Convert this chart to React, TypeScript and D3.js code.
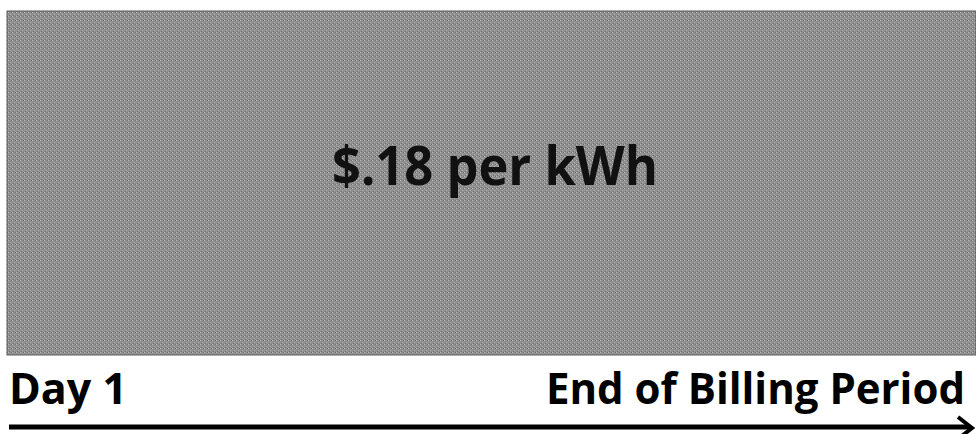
import React from "react";
import * as d3 from "d3";

const W = 976;
const H = 434;

// Timeline categories (start and end of billing period)
const periodLabels = ["Day 1", "End of Billing Period"];
const periodPositions = [0, 1];
// Flat rate over the period
const rateLabels = ["$.18 per kWh"];
const rateValues = [0.18];

export default function App() {
  const x = d3.scaleLinear().domain([0, 1]).range([9, 965]);
  const y = d3.scaleLinear().domain([0, 0.18]).range([355, 11]);
  const font = "'Open Sans', 'Noto Sans', sans-serif";
  return (
    <svg width={W} height={H} style={{ position: "absolute", left: 0, top: 0, display: "block" }}>
      <defs>
        <pattern id="stip" width="4" height="4" patternUnits="userSpaceOnUse">
          <rect width="4" height="4" fill="#909090" />
          <rect x="0" y="0" width="1" height="1" fill="#b8b8b8" />
          <rect x="2" y="2" width="1" height="1" fill="#aaaaaa" />
          <rect x="3" y="0" width="1" height="1" fill="#707070" />
          <rect x="1" y="3" width="1" height="1" fill="#767676" />
        </pattern>
      </defs>
      {rateValues.map((v, i) => (
        <g key={i}>
          <rect
            x={7}
            y={y(v)}
            width={W - 7}
            height={y(0) - y(v)}
            fill="url(#stip)"
            stroke="#5a5a5a"
            strokeWidth={1}
          />
          <text
            x={495}
            y={185}
            textAnchor="middle"
            fontFamily={font}
            fontWeight={700}
            fontSize={54}
            fill="#111"
            textLength={326}
            lengthAdjust="spacingAndGlyphs"
          >
            {rateLabels[i]}
          </text>
        </g>
      ))}
      {periodLabels.map((l, i) => (
        <text
          key={l}
          x={x(periodPositions[i])}
          y={404}
          textAnchor={i === 0 ? "start" : "end"}
          fontFamily={font}
          fontWeight={700}
          fontSize={43}
          fill="#000"
          textLength={i === 0 ? 118 : 419}
          lengthAdjust="spacingAndGlyphs"
        >
          {l}
        </text>
      ))}
      <line x1={9} x2={970} y1={427} y2={427} stroke="#000" strokeWidth={5} />
      <path d="M958,417 L972,428 L958,439" fill="none" stroke="#000" strokeWidth={4} />
    </svg>
  );
}
